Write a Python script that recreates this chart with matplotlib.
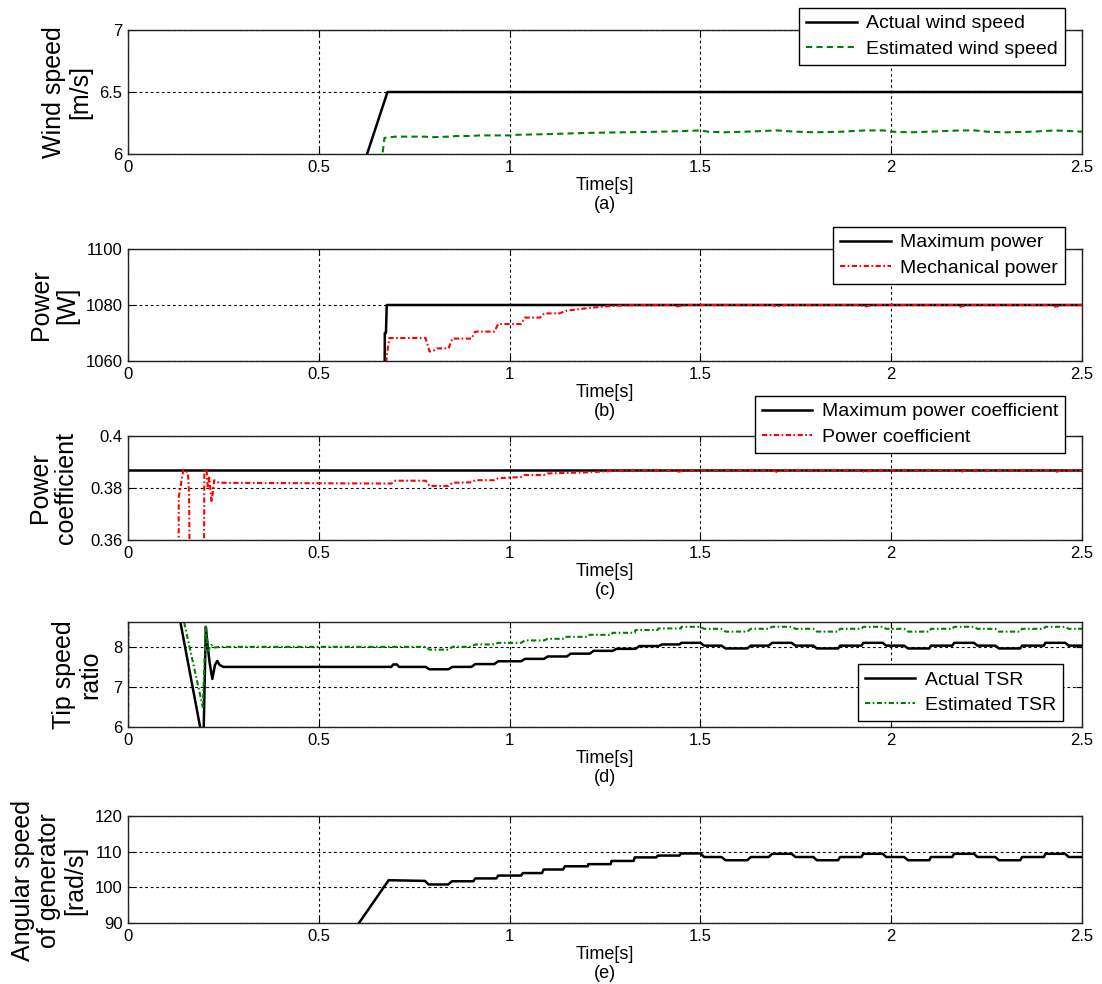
import numpy as np
import matplotlib
matplotlib.use("Agg")
import matplotlib.pyplot as plt

plt.rcParams['font.family'] = ['Liberation Sans', 'DejaVu Sans']

# ---- (a) wind speed ----
t_wind_act = [0.0, 0.573, 0.68, 2.5]
v_wind_act = [5.5, 5.5, 6.5, 6.5]
t_wind_est = [0.0, 0.60, 0.665, 0.672, 0.70, 0.78, 0.79, 0.84, 0.86, 0.90, 0.92, 1.0, 1.02, 1.1,
              1.2, 1.3, 1.4, 1.5, 1.52, 1.56, 1.62, 1.7, 1.75, 1.8, 1.87, 1.93, 1.98, 2.0,
              2.05, 2.1, 2.18, 2.22, 2.25, 2.3, 2.37, 2.43, 2.47, 2.5]
v_wind_est = [5.5, 5.8, 5.95, 6.13, 6.14, 6.14, 6.135, 6.14, 6.145, 6.145, 6.15, 6.15, 6.155, 6.16,
              6.17, 6.175, 6.18, 6.19, 6.18, 6.175, 6.18, 6.19, 6.18, 6.175, 6.18, 6.19, 6.19, 6.18,
              6.175, 6.18, 6.19, 6.19, 6.18, 6.175, 6.18, 6.19, 6.185, 6.18]

# ---- (b) power ----
t_pmax = [0.0, 0.671, 0.673, 0.676, 0.678, 2.5]
p_pmax = [900, 1000, 1070, 1070, 1080, 1080]
t_pmech = [0.0, 0.67, 0.678, 0.685, 0.78, 0.79, 0.80, 0.81, 0.84, 0.85, 0.90, 0.91, 0.96, 0.97,
           1.03, 1.04, 1.08, 1.09, 1.13, 1.15, 1.2, 1.25, 1.3, 1.43, 1.44, 1.46, 1.69, 1.70,
           1.72, 1.92, 1.93, 1.95, 2.17, 2.18, 2.20, 2.42, 2.43, 2.45, 2.5]
p_pmech = [900, 1040, 1062, 1068.2, 1068.2, 1063.4, 1063.6, 1064.5, 1064.5, 1068, 1068, 1070.5,
           1070.5, 1073.2, 1073.2, 1075.5, 1075.5, 1077, 1077, 1078, 1078.8, 1079.5, 1079.9,
           1080, 1079.5, 1080, 1080, 1079.4, 1080, 1080, 1079.4, 1080, 1080, 1079.4, 1080,
           1080, 1079.4, 1080, 1080]

# ---- (c) power coefficient ----
t_cpmax = [0.0, 2.5]
cp_max = [0.387, 0.387]
t_cp = [0.0, 0.132, 0.133, 0.145, 0.157, 0.160, 0.165, 0.198, 0.200, 0.206, 0.209, 0.213, 0.219,
        0.226, 0.235, 0.25, 0.69, 0.70, 0.78, 0.79, 0.84, 0.85, 0.90, 0.91, 0.96, 0.97, 1.03,
        1.04, 1.09, 1.10, 1.2, 1.3, 1.43, 1.44, 1.46, 1.69, 1.70, 1.72, 1.92, 1.93, 1.95,
        2.17, 2.18, 2.20, 2.42, 2.43, 2.45, 2.5]
cp_val = [0.2, 0.3, 0.3765, 0.387, 0.386, 0.378, 0.3, 0.3, 0.387, 0.387, 0.380, 0.384, 0.3745,
          0.383, 0.3822, 0.382, 0.3817, 0.3828, 0.3828, 0.3808, 0.3808, 0.382, 0.3822, 0.383,
          0.383, 0.3838, 0.3842, 0.385, 0.385, 0.3856, 0.386, 0.3868, 0.3868, 0.3862, 0.3868,
          0.3868, 0.3862, 0.3868, 0.3868, 0.3862, 0.3868, 0.3868, 0.3862, 0.3868, 0.3868,
          0.3862, 0.3868, 0.3868]

# ---- (d) tip speed ratio ----
t_tsr_act = [0.0, 0.11, 0.189, 0.195, 0.198, 0.204, 0.209, 0.214, 0.221, 0.228, 0.234, 0.24,
             0.25, 0.69, 0.695, 0.705, 0.71, 0.78, 0.79, 0.84, 0.85, 0.90, 0.91, 0.96, 0.97,
             1.03, 1.04, 1.09, 1.10, 1.15, 1.16, 1.21, 1.22, 1.27, 1.28, 1.33, 1.34, 1.39,
             1.40, 1.445, 1.45, 1.50, 1.51, 1.555, 1.566, 1.623, 1.632, 1.679, 1.688, 1.739,
             1.749, 1.796, 1.805, 1.861, 1.866, 1.922, 1.927, 1.978, 1.987, 2.034, 2.044,
             2.100, 2.104, 2.160, 2.165, 2.217, 2.226, 2.273, 2.282, 2.338, 2.343, 2.400,
             2.404, 2.456, 2.465, 2.5]
tsr_act = [12.0, 10.0, 6.0, 5.6, 5.8, 8.5, 8.0, 7.6, 7.2, 7.55, 7.65, 7.55,
           7.5, 7.5, 7.56, 7.56, 7.5, 7.5, 7.44, 7.44, 7.5, 7.5, 7.57, 7.57, 7.64,
           7.64, 7.7, 7.7, 7.76, 7.76, 7.83, 7.83, 7.9, 7.9, 7.95, 7.95, 8.02, 8.02,
           8.06, 8.06, 8.1, 8.1, 8.03, 8.03, 7.96, 7.96, 8.03, 8.03, 8.1, 8.1,
           8.03, 8.03, 7.96, 7.96, 8.03, 8.03, 8.1, 8.1, 8.03, 8.03, 7.96,
           7.96, 8.03, 8.03, 8.1, 8.1, 8.03, 8.03, 7.96, 7.96, 8.03, 8.03,
           8.1, 8.1, 8.03, 8.03]
t_tsr_est = [0.0, 0.002, 0.115, 0.196, 0.204, 0.21, 0.218, 0.225, 0.24, 0.78, 0.79, 0.84, 0.85,
             0.90, 0.91, 0.96, 0.97, 1.03, 1.04, 1.09, 1.10, 1.14, 1.145, 1.205, 1.21, 1.267,
             1.27, 1.328, 1.33, 1.388, 1.39, 1.449, 1.45, 1.50, 1.51, 1.555, 1.566, 1.623,
             1.632, 1.679, 1.688, 1.739, 1.749, 1.796, 1.805, 1.861, 1.866, 1.922, 1.927,
             1.978, 1.987, 2.034, 2.044, 2.100, 2.104, 2.160, 2.165, 2.217, 2.226, 2.273,
             2.282, 2.338, 2.343, 2.400, 2.404, 2.456, 2.465, 2.5]
tsr_est = [5.0, 11.0, 10.0, 6.5, 8.5, 7.9, 8.05, 7.98, 8.0, 8.0, 7.93, 7.93, 8.0,
           8.0, 8.06, 8.06, 8.1, 8.1, 8.16, 8.16, 8.2, 8.2, 8.25, 8.25, 8.3, 8.3,
           8.35, 8.35, 8.42, 8.42, 8.46, 8.46, 8.5, 8.5, 8.45, 8.45, 8.38, 8.38,
           8.45, 8.45, 8.5, 8.5, 8.45, 8.45, 8.38, 8.38, 8.45, 8.45, 8.5,
           8.5, 8.45, 8.45, 8.38, 8.38, 8.45, 8.45, 8.5, 8.5, 8.45, 8.45,
           8.38, 8.38, 8.45, 8.45, 8.5, 8.5, 8.45, 8.45]

# ---- (e) generator angular speed ----
t_omega = [0.0, 0.45, 0.683, 0.778, 0.788, 0.839, 0.849, 0.905, 0.91, 0.965, 0.97, 1.03, 1.035,
           1.085, 1.089, 1.14, 1.145, 1.205, 1.206, 1.265, 1.267, 1.325, 1.328, 1.385, 1.388,
           1.445, 1.449, 1.50, 1.51, 1.555, 1.566, 1.623, 1.632, 1.679, 1.688, 1.739, 1.749,
           1.796, 1.805, 1.861, 1.866, 1.922, 1.927, 1.978, 1.987, 2.034, 2.044, 2.100, 2.104,
           2.160, 2.165, 2.217, 2.226, 2.273, 2.282, 2.338, 2.343, 2.400, 2.404, 2.456, 2.465,
           2.5]
omega = [66, 66, 102.0, 101.8, 100.8, 100.8, 101.7, 101.7, 102.5, 102.5, 103.3, 103.3, 104.0,
         104.0, 105.0, 105.0, 105.9, 105.9, 106.5, 106.5, 107.4, 107.4, 108.4, 108.4, 108.9,
         108.9, 109.5, 109.5, 108.5, 108.5, 107.6, 107.6, 108.5, 108.5, 109.4, 109.4, 108.5,
         108.5, 107.6, 107.6, 108.5, 108.5, 109.4, 109.4, 108.5, 108.5, 107.6, 107.6, 108.5,
         108.5, 109.4, 109.4, 108.5, 108.5, 107.6, 107.6, 108.5, 108.5, 109.4, 109.4, 108.5,
         108.5]

x_ticks = [0, 0.5, 1, 1.5, 2, 2.5]
x_ticklabels = ['0', '0.5', '1', '1.5', '2', '2.5']

W, H = 1102, 984
fig = plt.figure(figsize=(W / 100, H / 100), dpi=100)

def px_rect(top, bottom, left=128, right=1082):
    return [left / W, 1 - bottom / H, (right - left) / W, (bottom - top) / H]

GREEN = '#008000'
RED = '#ff0000'
LW = 1.8

def style(ax, ylim, yticks, yticklabels, ylabel, lab_right_px, panel, lab_y=0.5):
    ax.set_xlim(0, 2.5)
    ax.set_ylim(*ylim)
    ax.set_xticks(x_ticks)
    ax.set_xticklabels(x_ticklabels)
    ax.set_yticks(yticks)
    ax.set_yticklabels(yticklabels)
    ax.tick_params(direction='in', length=4, labelsize=12, top=True, right=True, pad=4)
    ax.grid(True, color='black', linestyle=(0, (2.5, 2.5)), linewidth=0.8)
    for s in ax.spines.values():
        s.set_color('#222222')
        s.set_linewidth(1.0)
    ax.set_ylabel(ylabel, fontsize=18, linespacing=1.1, multialignment='center')
    # label x given as the pixel of its right edge
    ax.yaxis.set_label_coords((lab_right_px - 128) / 954, lab_y)
    ax.set_xlabel('Time[s]\n' + panel, fontsize=13, linespacing=1.15, labelpad=2)

def legend(ax, anchor, loc='upper right'):
    lg = ax.legend(loc=loc, bbox_to_anchor=(anchor[0] / W, 1 - anchor[1] / H),
                   bbox_transform=fig.transFigure, fontsize=14, frameon=True,
                   fancybox=False, framealpha=1, edgecolor='black', handlelength=2.6,
                   borderpad=0.35, labelspacing=0.4, handletextpad=0.5, borderaxespad=0)
    lg.get_frame().set_linewidth(1.0)

# (a)
ax = fig.add_axes(px_rect(30, 154))
ax.plot(t_wind_act, v_wind_act, color='black', lw=LW, label='Actual wind speed')
ax.plot(t_wind_est, v_wind_est, color=GREEN, lw=1.5, dashes=(3, 2), label='Estimated wind speed')
style(ax, (6, 7), [6, 6.5, 7], ['6', '6.5', '7'], 'Wind speed\n[m/s]', 92, '(a)')
legend(ax, (1065, 8))

# (b)
ax = fig.add_axes(px_rect(249, 361))
ax.plot(t_pmax, p_pmax, color='black', lw=LW, label='Maximum power')
ax.plot(t_pmech, p_pmech, color=RED, lw=1.5, dashes=(2.5, 1.2, 0.8, 1.2), label='Mechanical power')
style(ax, (1060, 1100), [1060, 1080, 1100], ['1060', '1080', '1100'], 'Power\n[W]', 79, '(b)')
legend(ax, (1065, 227))

# (c)
ax = fig.add_axes(px_rect(436, 540))
ax.plot(t_cpmax, cp_max, color='black', lw=LW, label='Maximum power coefficient')
ax.plot(t_cp, cp_val, color=RED, lw=1.5, dashes=(2.5, 1.2, 0.8, 1.2), label='Power coefficient')
style(ax, (0.36, 0.4), [0.36, 0.38, 0.4], ['0.36', '0.38', '0.4'], 'Power\ncoefficient', 78, '(c)')
legend(ax, (1065, 396))

# (d)
ax = fig.add_axes(px_rect(622, 727))
ax.plot(t_tsr_act, tsr_act, color='black', lw=LW, label='Actual TSR')
ax.plot(t_tsr_est, tsr_est, color=GREEN, lw=1.5, dashes=(2.5, 1.2, 0.8, 1.2), label='Estimated TSR')
style(ax, (6, 8.62), [6, 7, 8], ['6', '7', '8'], 'Tip speed\nratio', 102, '(d)')
legend(ax, (1063, 721), loc='lower right')

# (e)
ax = fig.add_axes(px_rect(816, 923))
ax.plot(t_omega, omega, color='black', lw=LW)
style(ax, (90, 120), [90, 100, 110, 120], ['90', '100', '110', '120'],
      'Angular speed\nof generator\n[rad/s]', 87, '(e)', lab_y=0.4)

fig.savefig('out.png', dpi=100, facecolor='white')
